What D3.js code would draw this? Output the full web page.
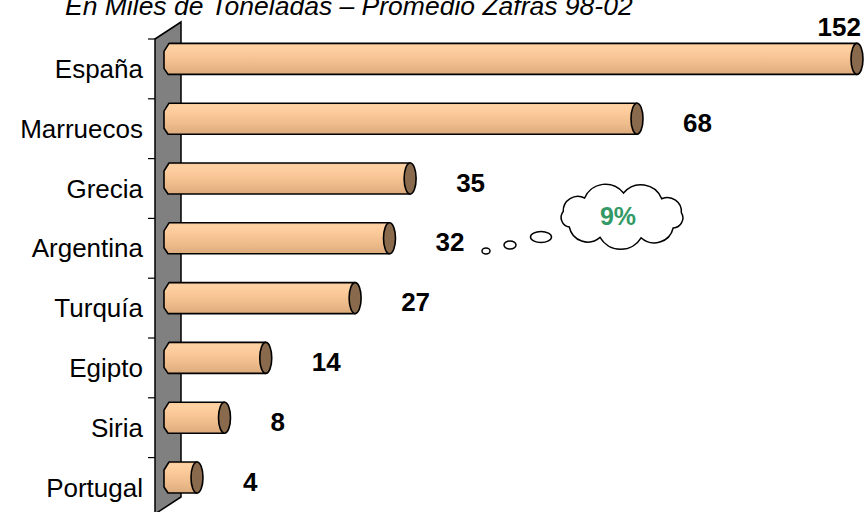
<!DOCTYPE html>
<html>
<head>
<meta charset="utf-8">
<script src="https://cdn.jsdelivr.net/npm/d3@7"></script>
<style>
  body { margin: 0; background: #fff; }
  svg { display: block; font-family: "Liberation Sans", Arial, sans-serif; }
</style>
</head>
<body>
<svg class="bar-chart" width="865" height="512"></svg>
<script>
// Static data
const categories = ['España', 'Marruecos', 'Grecia', 'Argentina', 'Turquía', 'Egipto', 'Siria', 'Portugal'];
const values = [152, 68, 35, 32, 27, 14, 8, 4];
const axisMax = 100; // value axis is fixed at 100, bigger bars get cut
const title = 'En Miles de Toneladas – Promedio Zafras 98-02';
const bubbleText = '9%';

// D3.js selectors
const chart = d3.select('.bar-chart');

// D3.js setup
const x = d3.scaleLinear().domain([0, axisMax]).range([175.5, 863]).clamp(true);
const y = d3.scaleBand().domain(categories).range([39, 517.4]);

const wallX = 155;
const depth = { dx: 26, dy: -17 };
const barH = 31;
const capRx = 6;
const barMid = d => y(d) + y.bandwidth() / 2 - 10;

// gradient for the cylinders
const defs = chart.append('defs');
const grad = defs.append('linearGradient')
  .attr('id', 'barFill')
  .attr('x1', 0).attr('y1', 0).attr('x2', 0).attr('y2', 1);
[[0, '#f2c190'], [0.08, '#ffd2a4'], [0.35, '#fbc999'], [0.65, '#efbd8c'], [1, '#dcab7d']]
  .forEach(s => grad.append('stop').attr('offset', s[0]).attr('stop-color', s[1]));

// title (sits partly above the picture, like the original)
chart.append('text')
  .attr('x', 65)
  .attr('y', 15)
  .attr('font-size', 26.5)
  .attr('font-style', 'italic')
  .attr('fill', '#000')
  .text(title);

// side wall
const yTop = y.range()[0];
const yBot = 514;
chart.append('path')
  .attr('d', `M${wallX},${yTop} L${wallX + depth.dx},${yTop + depth.dy} L${wallX + depth.dx},${yBot + depth.dy} L${wallX},${yBot} Z`)
  .attr('fill', '#808080')
  .attr('stroke', '#000')
  .attr('stroke-width', 1.5);

// category ticks at band edges
chart.selectAll('.tick-line')
  .data(categories)
  .enter().append('line')
  .attr('class', 'tick-line')
  .attr('x1', wallX - 7).attr('x2', wallX)
  .attr('y1', d => y(d)).attr('y2', d => y(d))
  .attr('stroke', '#000')
  .attr('stroke-width', 1.2);

// category labels
chart.selectAll('.cat-label')
  .data(categories)
  .enter().append('text')
  .attr('class', 'cat-label')
  .attr('x', 143)
  .attr('y', d => y(d) + y.bandwidth() / 2)
  .attr('dy', '0.35em')
  .attr('text-anchor', 'end')
  .attr('font-size', 26)
  .attr('fill', '#000')
  .text(d => d);

// bars
const bars = chart.selectAll('.bar')
  .data(categories.map((c, i) => ({ c, v: values[i] })))
  .enter().append('g')
  .attr('class', 'bar');

bars.append('path')
  .attr('d', d => {
    const x0 = x(0) - 11.5;
    const x1 = x(d.v) - capRx;
    const t = barMid(d.c) - barH / 2;
    const b = t + barH;
    return `M${x0 + 5},${t} L${x1},${t} L${x1},${b} L${x0 + 4},${b} L${x0},${b - 6} L${x0},${t + 8} Z`;
  })
  .attr('fill', 'url(#barFill)')
  .attr('stroke', '#000')
  .attr('stroke-width', 1.6)
  .attr('stroke-linejoin', 'round');

bars.append('ellipse')
  .attr('cx', d => x(d.v) - capRx)
  .attr('cy', d => barMid(d.c))
  .attr('rx', capRx)
  .attr('ry', barH / 2)
  .attr('fill', '#8a6a4c')
  .attr('stroke', '#000')
  .attr('stroke-width', 1.6);

// value labels
bars.append('text')
  .attr('x', d => d.v > axisMax ? x(axisMax) - 2 : x(d.v) + 40)
  .attr('y', d => d.v > axisMax ? barMid(d.c) - barH / 2 - 17 : barMid(d.c) + 4)
  .attr('dy', '0.35em')
  .attr('text-anchor', d => d.v > axisMax ? 'end' : 'start')
  .attr('font-size', 26)
  .attr('font-weight', 'bold')
  .attr('fill', '#000')
  .text(d => d.v);

// thought bubble
const cloud = { cx: 622, cy: 216, rx: 60, ry: 23, n: 9 };
const pts = d3.range(cloud.n).map(i => {
  const a = Math.PI + i * 2 * Math.PI / cloud.n + 0.2;
  return [cloud.cx + cloud.rx * Math.cos(a), cloud.cy + cloud.ry * Math.sin(a)];
});
let cloudPath = `M${pts[0][0]},${pts[0][1]}`;
pts.forEach((p, i) => {
  const q = pts[(i + 1) % pts.length];
  const chord = Math.hypot(q[0] - p[0], q[1] - p[1]);
  const r = chord * 0.58;
  cloudPath += ` A${r},${r} 0 0 1 ${q[0]},${q[1]}`;
});
cloudPath += ' Z';

chart.selectAll('.puff')
  .data([[486, 251, 4, 3], [510, 245, 6, 4], [541, 237, 10.5, 5.5]])
  .enter().append('ellipse')
  .attr('class', 'puff')
  .attr('cx', d => d[0]).attr('cy', d => d[1])
  .attr('rx', d => d[2]).attr('ry', d => d[3])
  .attr('fill', '#fff')
  .attr('stroke', '#000')
  .attr('stroke-width', 1.5);

chart.append('path')
  .attr('d', cloudPath)
  .attr('fill', '#fff')
  .attr('stroke', '#000')
  .attr('stroke-width', 1.5);

chart.append('text')
  .attr('x', cloud.cx - 4)
  .attr('y', cloud.cy)
  .attr('dy', '0.35em')
  .attr('text-anchor', 'middle')
  .attr('font-size', 25)
  .attr('font-weight', 'bold')
  .attr('fill', '#339966')
  .text(bubbleText);
</script>
</body>
</html>
